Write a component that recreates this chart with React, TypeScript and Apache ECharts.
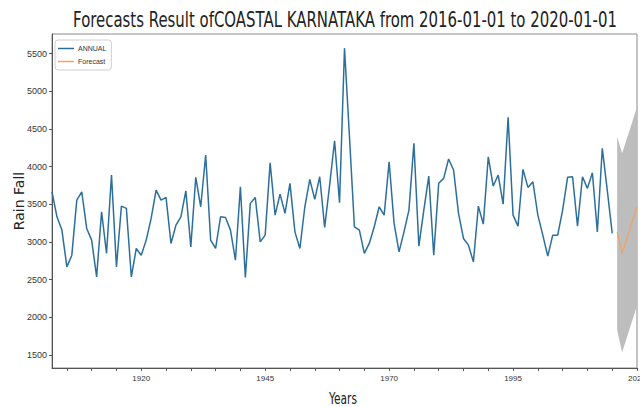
import React, { useEffect, useRef } from 'react';
import * as echarts from 'echarts';

const TITLE = 'Forecasts Result ofCOASTAL KARNATAKA from 2016-01-01 to 2020-01-01';
const X_NAME = 'Years';
const Y_NAME = 'Rain Fall';

const START_YEAR = 1902;
const annualValues = [
  3665, 3332, 3156, 2668, 2823, 3555, 3665, 3178, 3023, 2535,
  3400, 2846, 3887, 2668, 3475, 3444, 2535, 2912, 2823, 3023,
  3311, 3688, 3555, 3590, 2979, 3222, 3333, 3678, 2933, 3857,
  3466, 4153, 3023, 2912, 3333, 3324, 3156, 2757, 3732, 2526,
  3511, 3590, 3000, 3089, 4051, 3355, 3634, 3378, 3777, 3133,
  2912, 3466, 3830, 3564, 3865, 3191, 3754, 4343, 3519, 5572,
  4400, 3200, 3156, 2846, 2979, 3200, 3466, 3355, 4064, 3245,
  2867, 3133, 3422, 4309, 2943, 3422, 3874, 2823, 3777, 3843,
  4100, 3954, 3378, 3045, 2956, 2734, 3475, 3235, 4130, 3741,
  3887, 3501, 4655, 3355, 3209, 3963, 3723, 3798, 3355, 3089,
  2810, 3089, 3089, 3422, 3857, 3865, 3209, 3865, 3710, 3918,
  3133, 4242, 3688, 3112,
];

const forecastYears = [2016, 2017, 2018, 2019, 2020];
const forecastValues = [3133, 2846, 3050, 3260, 3466];
const lowerValues = [1830, 1530, 1740, 1945, 2150];
const upperValues = [4396, 4176, 4380, 4580, 4795];

const xLabelValues = [1920, 1945, 1970, 1995, 2020];
const xTickValues = [1905, 1910, 1915, 1920, 1925, 1930, 1935, 1940, 1945, 1950, 1955, 1960, 1965, 1970, 1975, 1980, 1985, 1990, 1995, 2000, 2005, 2010, 2015, 2020];
const yTickValues = [1500, 2000, 2500, 3000, 3500, 4000, 4500, 5000, 5500];

const BLUE = '#2c6f9c';
const ORANGE = '#f2a263';
const FONT = 'Liberation Sans, DejaVu Sans, sans-serif';

function measure(text: string, font: string): number {
  const c = document.createElement('canvas').getContext('2d');
  if (!c) return text.length * 8;
  c.font = font;
  return c.measureText(text).width;
}

export default function App() {
  const ref = useRef<HTMLDivElement>(null);
  useEffect(() => {
    if (!ref.current) return;
    const chart = echarts.init(ref.current, undefined, { renderer: 'svg' });

    const annualData = annualValues.map((v, i) => [START_YEAR + i, v]);
    const forecastData = forecastYears.map((y, i) => [y, forecastValues[i]]);
    const bandData = forecastYears.map((y, i) => [y, lowerValues[i], upperValues[i]]);

    const titleFont = '21px DejaVu Sans';
    const titleScale = 544 / measure(TITLE, titleFont);
    const xNameFont = '16px DejaVu Sans';
    const xNameScale = 28 / measure(X_NAME, xNameFont);

    const option: any = {
      animation: false,
      backgroundColor: '#ffffff',
      grid: {
        left: 52, right: 3, top: 34, bottom: 39,
        outerBoundsMode: 'none',
        containLabel: false,
        show: true, borderColor: '#8a8a8a', borderWidth: 1,
      },
      legend: {
        data: ['ANNUAL', 'Forecast'],
        orient: 'vertical',
        left: 55, top: 40,
        padding: [5, 5, 5, 3],
        itemGap: 6,
        itemWidth: 16, itemHeight: 1.5,
        icon: 'rect',
        borderColor: '#d0d0d0', borderWidth: 1, borderRadius: 3,
        textStyle: { fontSize: 7, color: '#333', fontFamily: FONT, padding: [0, 0, 0, -1] },
      },
      xAxis: {
        type: 'value', min: 1902, max: 2020,
        axisLine: { show: true, lineStyle: { color: '#555', width: 1 } },
        axisTick: { show: true, length: 3, customValues: xTickValues, lineStyle: { color: '#555' } },
        axisLabel: { customValues: xLabelValues, fontSize: 8, color: '#333', margin: 6, fontFamily: FONT, formatter: (v: number) => String(v) },
        splitLine: { show: false },
      },
      yAxis: {
        type: 'value', min: 1325, max: 5760,
        name: Y_NAME, nameLocation: 'middle', nameGap: 26, nameRotate: 90,
        nameMoveOverlap: false,
        nameTextStyle: { fontSize: 14, color: '#222', fontFamily: 'DejaVu Sans' },
        axisLine: { show: true, lineStyle: { color: '#555', width: 1 } },
        axisTick: { show: true, length: 3, customValues: yTickValues, lineStyle: { color: '#555' } },
        axisLabel: { customValues: yTickValues, fontSize: 9, color: '#333', margin: 5, fontFamily: FONT, formatter: (v: number) => String(v) },
        splitLine: { show: false },
      },
      series: [
        {
          type: 'custom', name: 'band', silent: true, z: 1,
          data: bandData,
          encode: { x: 0, y: [1, 2] },
          renderItem: (params: any, api: any) => {
            if (params.dataIndex !== 0) return { type: 'group', children: [] };
            const up = bandData.map((d) => api.coord([d[0], d[2]]));
            const lo = bandData.map((d) => api.coord([d[0], d[1]])).reverse();
            return {
              type: 'polygon',
              shape: { points: up.concat(lo) },
              style: { fill: '#bdbdbd', stroke: 'none' },
            };
          },
        },
        {
          type: 'line', name: 'ANNUAL', data: annualData, showSymbol: false, z: 3,
          lineStyle: { width: 1.5, color: BLUE }, itemStyle: { color: BLUE },
        },
        {
          type: 'line', name: 'Forecast', data: forecastData, showSymbol: false, z: 3,
          lineStyle: { width: 1.2, color: ORANGE }, itemStyle: { color: ORANGE },
        },
      ],
      graphic: [
        {
          type: 'text', x: 345, y: 20, scaleX: titleScale, z: 10,
          style: { text: TITLE, font: titleFont, fill: '#222', textAlign: 'center', textVerticalAlign: 'middle' },
        },
        {
          type: 'text', x: 343, y: 398, scaleX: xNameScale, z: 10,
          style: { text: X_NAME, font: xNameFont, fill: '#222', textAlign: 'center', textVerticalAlign: 'middle' },
        },
      ],
    };
    chart.setOption(option);
    return () => chart.dispose();
  }, []);
  return <div ref={ref} style={{ position: 'fixed', left: 0, top: 0, width: 640, height: 407 }} />;
}
